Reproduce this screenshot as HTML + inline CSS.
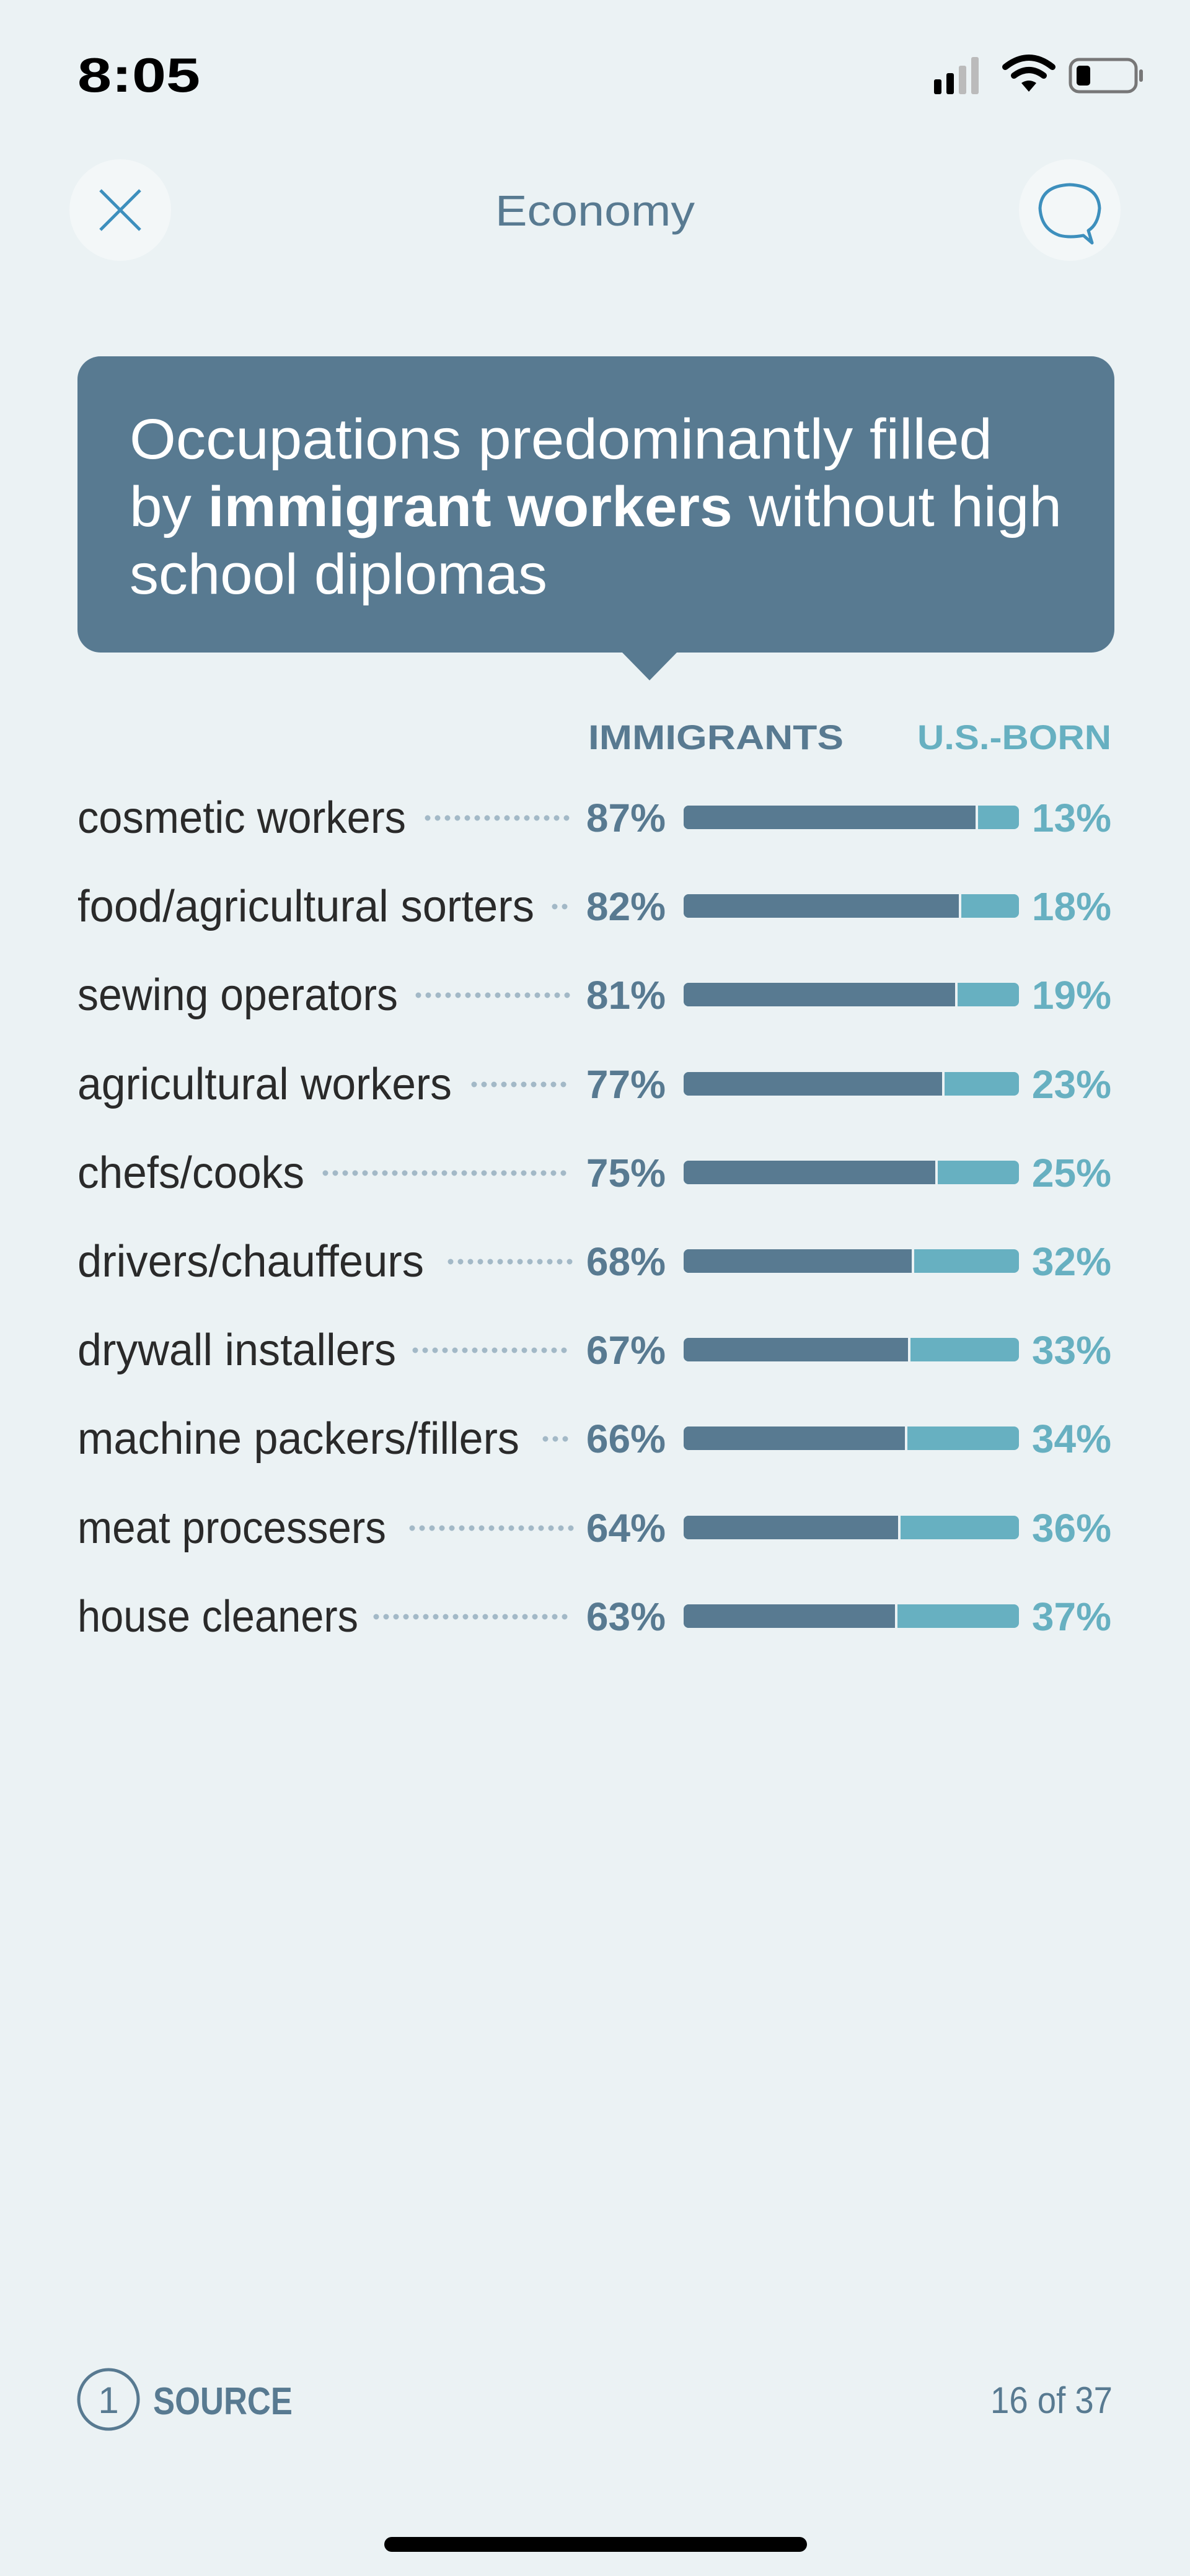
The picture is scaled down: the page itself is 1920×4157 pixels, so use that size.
<!DOCTYPE html>
<html><head><meta charset="utf-8"><style>
html,body{margin:0;padding:0;background:#ebf2f4;}
svg{display:block;}
text{font-family:"Liberation Sans",sans-serif;}
</style></head><body>
<svg width="1920" height="4157" viewBox="0 0 1920 4157" xmlns="http://www.w3.org/2000/svg">
<rect width="1920" height="4157" fill="#ebf2f4"/>
<!-- status bar -->
<text x="125" y="148" font-size="78" font-weight="bold" fill="#000" textLength="198" lengthAdjust="spacingAndGlyphs">8:05</text>
<rect x="1507" y="128" width="12" height="24" rx="3" fill="#000"/>
<rect x="1527" y="118" width="12" height="34" rx="3" fill="#000"/>
<rect x="1547" y="106" width="12" height="46" rx="3" fill="#bbb"/>
<rect x="1567" y="92" width="12" height="60" rx="3" fill="#bbb"/>
<path d="M1622 108 Q1660 78 1698 108" stroke="#000" stroke-width="10" fill="none" stroke-linecap="round"/>
<path d="M1636 122 Q1660 104 1684 122" stroke="#000" stroke-width="10" fill="none" stroke-linecap="round"/>
<path d="M1648 134 L1660 148 L1672 134 Q1660 126 1648 134 Z" fill="#000"/>
<rect x="1727" y="96" width="106" height="52" rx="14" fill="none" stroke="#777" stroke-width="5"/>
<rect x="1737" y="106" width="22" height="32" rx="5" fill="#000"/>
<rect x="1838" y="112" width="6" height="20" rx="3" fill="#777"/>
<!-- nav -->
<circle cx="194" cy="339" r="82" fill="#f3f7f8"/>
<path d="M162 307 L226 371 M226 307 L162 371" stroke="#3d8fbd" stroke-width="5"/>
<text x="960" y="364" font-size="70" fill="#587a91" text-anchor="middle" textLength="322" lengthAdjust="spacingAndGlyphs">Economy</text>
<circle cx="1726" cy="339" r="82" fill="#f3f7f8"/>
<path d="M1748 380 Q1726 384 1710 380 Q1680 370 1678 336 Q1680 300 1726 298 Q1772 300 1774 336 Q1772 362 1756 372 L1762 392 Z" stroke="#3d8fbd" stroke-width="5" fill="none" stroke-linejoin="round"/>
<!-- title box -->
<rect x="125" y="575" width="1673" height="478" rx="37" fill="#587a91"/>
<path d="M1003 1052 L1048 1098 L1093 1052 Z" fill="#587a91"/>
<text x="209" y="740" font-size="92" fill="#fff" textLength="1392" lengthAdjust="spacingAndGlyphs">Occupations predominantly filled</text>
<text x="209" y="849" font-size="92" fill="#fff" textLength="1504" lengthAdjust="spacingAndGlyphs">by <tspan font-weight="bold">immigrant workers</tspan> without high</text>
<text x="209" y="958" font-size="92" fill="#fff" textLength="674" lengthAdjust="spacingAndGlyphs">school diplomas</text>
<!-- headers -->
<text x="949" y="1209" font-size="56" font-weight="bold" fill="#587a91" textLength="412" lengthAdjust="spacingAndGlyphs">IMMIGRANTS</text>
<text x="1480" y="1209" font-size="56" font-weight="bold" fill="#67b0c1" textLength="313" lengthAdjust="spacingAndGlyphs">U.S.-BORN</text>
<g font-size="72" fill="#2a2a2a">
<text x="125" y="1344" textLength="530" lengthAdjust="spacingAndGlyphs">cosmetic workers</text>
<text x="125" y="1487" textLength="737" lengthAdjust="spacingAndGlyphs">food/agricultural sorters</text>
<text x="125" y="1630" textLength="517" lengthAdjust="spacingAndGlyphs">sewing operators</text>
<text x="125" y="1774" textLength="604" lengthAdjust="spacingAndGlyphs">agricultural workers</text>
<text x="125" y="1917" textLength="366" lengthAdjust="spacingAndGlyphs">chefs/cooks</text>
<text x="125" y="2060" textLength="559" lengthAdjust="spacingAndGlyphs">drivers/chauffeurs</text>
<text x="125" y="2203" textLength="514" lengthAdjust="spacingAndGlyphs">drywall installers</text>
<text x="125" y="2346" textLength="713" lengthAdjust="spacingAndGlyphs">machine packers/fillers</text>
<text x="125" y="2490" textLength="498" lengthAdjust="spacingAndGlyphs">meat processers</text>
<text x="125" y="2633" textLength="453" lengthAdjust="spacingAndGlyphs">house cleaners</text>
</g>
<g stroke="#a3b9c7" stroke-width="9" stroke-linecap="round" stroke-dasharray="0 16">
<line x1="690" y1="1320" x2="923" y2="1320"/>
<line x1="895" y1="1463" x2="923" y2="1463"/>
<line x1="675" y1="1606" x2="923" y2="1606"/>
<line x1="765" y1="1750" x2="923" y2="1750"/>
<line x1="525" y1="1893" x2="923" y2="1893"/>
<line x1="727" y1="2036" x2="923" y2="2036"/>
<line x1="670" y1="2179" x2="923" y2="2179"/>
<line x1="880" y1="2322" x2="923" y2="2322"/>
<line x1="665" y1="2466" x2="923" y2="2466"/>
<line x1="607" y1="2609" x2="923" y2="2609"/>
</g>
<g font-size="64" font-weight="bold" fill="#587a91" text-anchor="end">
<text x="1074" y="1342">87%</text><text x="1074" y="1485">82%</text><text x="1074" y="1628">81%</text><text x="1074" y="1772">77%</text><text x="1074" y="1915">75%</text><text x="1074" y="2058">68%</text><text x="1074" y="2201">67%</text><text x="1074" y="2344">66%</text><text x="1074" y="2488">64%</text><text x="1074" y="2631">63%</text>
</g>
<g font-size="64" font-weight="bold" fill="#67b0c1" text-anchor="end">
<text x="1793" y="1342">13%</text><text x="1793" y="1485">18%</text><text x="1793" y="1628">19%</text><text x="1793" y="1772">23%</text><text x="1793" y="1915">25%</text><text x="1793" y="2058">32%</text><text x="1793" y="2201">33%</text><text x="1793" y="2344">34%</text><text x="1793" y="2488">36%</text><text x="1793" y="2631">37%</text>
</g>
<g>
<rect x="1103" y="1300" width="541" height="38" rx="8" fill="#67b0c1"/><rect x="1103" y="1300" width="471" height="38" rx="8" fill="#587a91"/><rect x="1564" y="1300" width="10" height="38" fill="#587a91"/><rect x="1574" y="1300" width="4" height="38" fill="#ebf2f4"/>
<rect x="1103" y="1443" width="541" height="38" rx="8" fill="#67b0c1"/><rect x="1103" y="1443" width="444" height="38" rx="8" fill="#587a91"/><rect x="1537" y="1443" width="10" height="38" fill="#587a91"/><rect x="1547" y="1443" width="4" height="38" fill="#ebf2f4"/>
<rect x="1103" y="1586" width="541" height="38" rx="8" fill="#67b0c1"/><rect x="1103" y="1586" width="438" height="38" rx="8" fill="#587a91"/><rect x="1531" y="1586" width="10" height="38" fill="#587a91"/><rect x="1541" y="1586" width="4" height="38" fill="#ebf2f4"/>
<rect x="1103" y="1730" width="541" height="38" rx="8" fill="#67b0c1"/><rect x="1103" y="1730" width="417" height="38" rx="8" fill="#587a91"/><rect x="1510" y="1730" width="10" height="38" fill="#587a91"/><rect x="1520" y="1730" width="4" height="38" fill="#ebf2f4"/>
<rect x="1103" y="1873" width="541" height="38" rx="8" fill="#67b0c1"/><rect x="1103" y="1873" width="406" height="38" rx="8" fill="#587a91"/><rect x="1499" y="1873" width="10" height="38" fill="#587a91"/><rect x="1509" y="1873" width="4" height="38" fill="#ebf2f4"/>
<rect x="1103" y="2016" width="541" height="38" rx="8" fill="#67b0c1"/><rect x="1103" y="2016" width="368" height="38" rx="8" fill="#587a91"/><rect x="1461" y="2016" width="10" height="38" fill="#587a91"/><rect x="1471" y="2016" width="4" height="38" fill="#ebf2f4"/>
<rect x="1103" y="2159" width="541" height="38" rx="8" fill="#67b0c1"/><rect x="1103" y="2159" width="362" height="38" rx="8" fill="#587a91"/><rect x="1455" y="2159" width="10" height="38" fill="#587a91"/><rect x="1465" y="2159" width="4" height="38" fill="#ebf2f4"/>
<rect x="1103" y="2302" width="541" height="38" rx="8" fill="#67b0c1"/><rect x="1103" y="2302" width="357" height="38" rx="8" fill="#587a91"/><rect x="1450" y="2302" width="10" height="38" fill="#587a91"/><rect x="1460" y="2302" width="4" height="38" fill="#ebf2f4"/>
<rect x="1103" y="2446" width="541" height="38" rx="8" fill="#67b0c1"/><rect x="1103" y="2446" width="346" height="38" rx="8" fill="#587a91"/><rect x="1439" y="2446" width="10" height="38" fill="#587a91"/><rect x="1449" y="2446" width="4" height="38" fill="#ebf2f4"/>
<rect x="1103" y="2589" width="541" height="38" rx="8" fill="#67b0c1"/><rect x="1103" y="2589" width="341" height="38" rx="8" fill="#587a91"/><rect x="1434" y="2589" width="10" height="38" fill="#587a91"/><rect x="1444" y="2589" width="4" height="38" fill="#ebf2f4"/>
</g>
<!-- footer -->
<circle cx="175" cy="3872" r="48" fill="none" stroke="#587a91" stroke-width="5"/>
<text x="175" y="3894" font-size="60" fill="#587a91" text-anchor="middle">1</text>
<text x="247" y="3896" font-size="62" font-weight="bold" fill="#587a91" textLength="225" lengthAdjust="spacingAndGlyphs">SOURCE</text>
<text x="1795" y="3894" font-size="60" fill="#587a91" text-anchor="end" textLength="197" lengthAdjust="spacingAndGlyphs">16 of 37</text>
<rect x="620" y="4094" width="682" height="24" rx="12" fill="#000"/>
</svg>
</body></html>
